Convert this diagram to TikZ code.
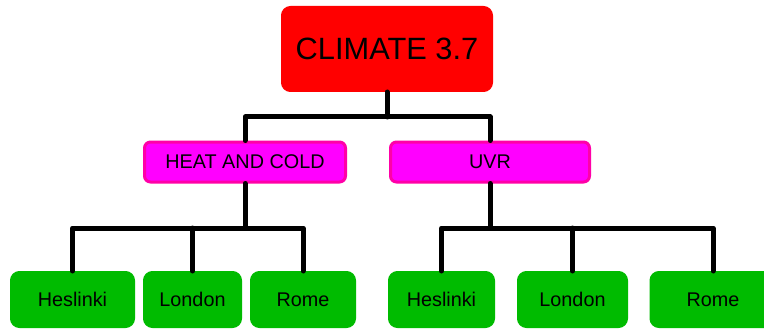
\documentclass[tikz,border=0pt]{standalone}
\usepackage{fontspec}
\setmainfont{Liberation Sans}
\definecolor{cred}{HTML}{FF0000}
\definecolor{cmag}{HTML}{FF00FF}
\definecolor{cmagb}{HTML}{FF00A8}
\definecolor{cgreen}{HTML}{00BB00}
\begin{document}
\begin{tikzpicture}[x=1pt,y=-1pt,
  topbox/.style={fill=cred, draw=cred, line width=1pt, rounded corners=9pt, minimum width=211pt, minimum height=85pt, font=\fontsize{30.8}{36}\selectfont, inner sep=0pt},
  midbox/.style={fill=cmag, draw=cmagb, line width=3pt, rounded corners=6pt, minimum height=40pt, font=\fontsize{19.8}{23}\selectfont, inner sep=0pt},
  leafbox/.style={fill=cgreen, draw=cgreen, line width=1pt, rounded corners=9pt, minimum height=56pt, font=\fontsize{19.8}{23}\selectfont, inner sep=0pt},
  conn/.style={line width=5pt, line cap=round, line join=round}]
\useasboundingbox (0,0) rectangle (764,329);
\coordinate (bus1) at (0,117);
\coordinate (bus2) at (0,228);
% boxes
\node[topbox] (top) at (387,49) {CLIMATE 3.7};
\node[midbox, minimum width=201pt] (heat) at (245,162) {HEAT AND COLD};
\node[midbox, minimum width=199pt] (uvr) at (490,162) {UVR};
\node[leafbox, minimum width=124pt] (h1) at (72.5,299.5) {Heslinki};
\node[leafbox, minimum width=98pt] (l1) at (192.5,299.5) {London};
\node[leafbox, minimum width=105pt] (r1) at (303,299.5) {Rome};
\node[leafbox, minimum width=106pt] (h2) at (441.5,299.5) {Heslinki};
\node[leafbox, minimum width=110pt] (l2) at (572.5,299.5) {London};
\node[leafbox, minimum width=126pt] (r2) at (713,299.5) {Rome};
% connectors
\draw[conn] (top.south) -- (top.south |- bus1);
\draw[conn] (heat.north) |- (uvr.north |- bus1) -- (uvr.north);
\draw[conn] (heat.south) -- (heat.south |- bus2);
\draw[conn] (h1.north) |- (r1.north |- bus2) -- (r1.north);
\draw[conn] (l1.north) -- (l1.north |- bus2);
\draw[conn] (uvr.south) -- (uvr.south |- bus2);
\draw[conn] (h2.north) |- (r2.north |- bus2) -- (r2.north);
\draw[conn] (l2.north) -- (l2.north |- bus2);
\end{tikzpicture}
\end{document}
